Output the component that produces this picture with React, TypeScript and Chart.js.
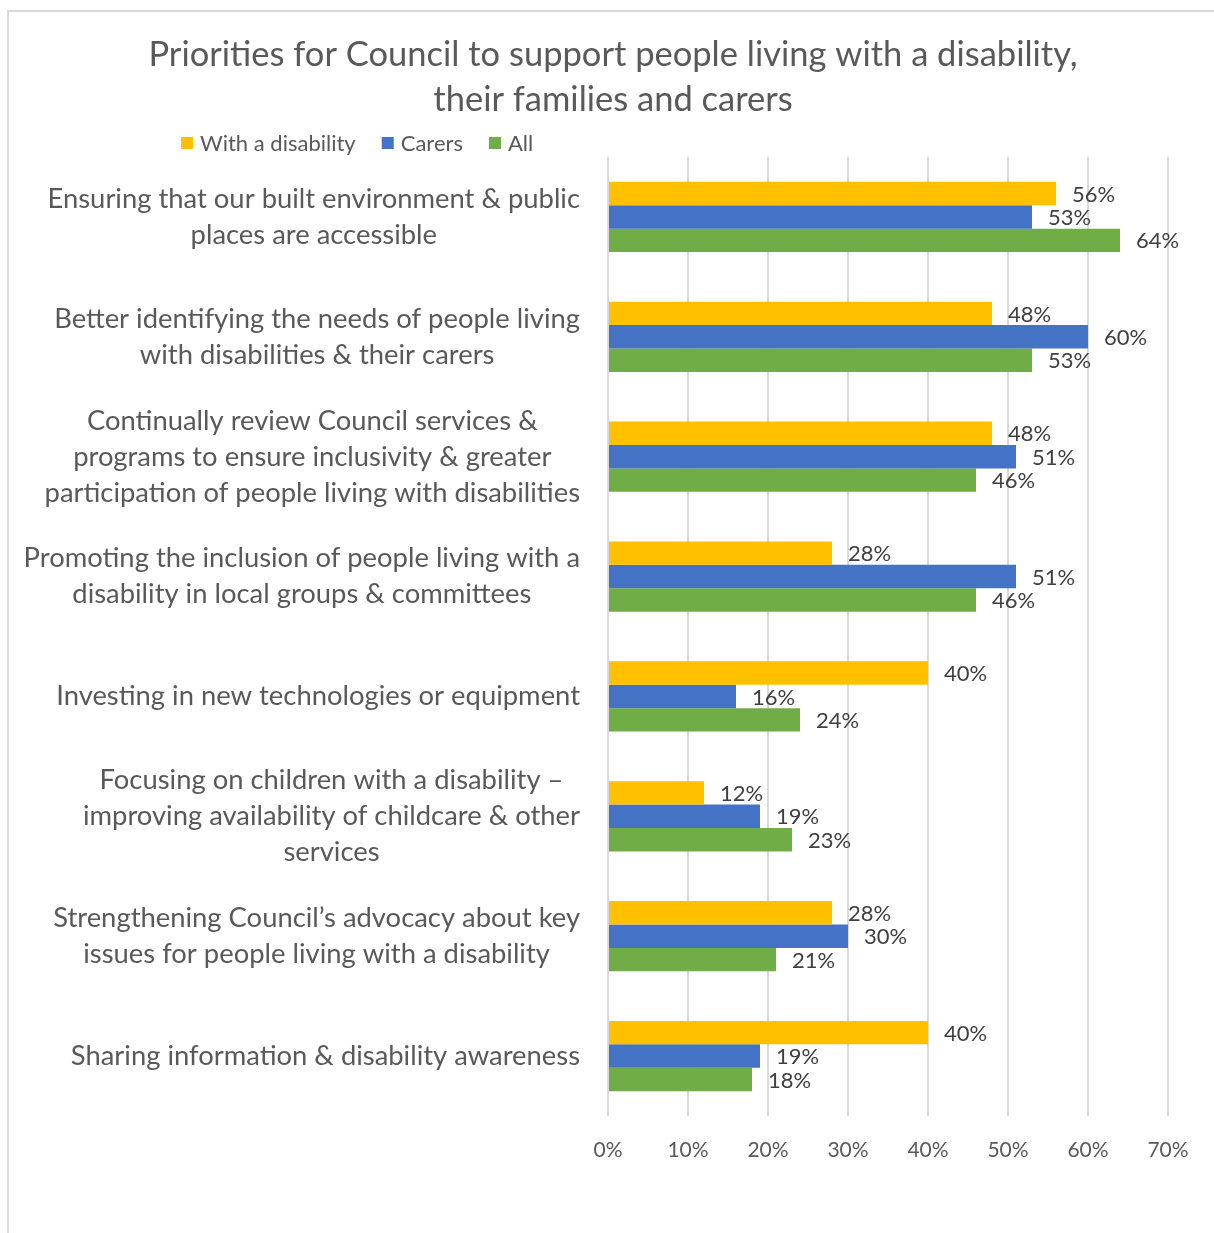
import React, { useEffect, useRef } from 'react';
import { Chart, registerables } from 'chart.js';

Chart.register(...registerables);

const titleLines: string[] = [
  'Priorities for Council to support people living with a disability,',
  'their families and carers',
];
const categories: string[][] = [
  ['Ensuring that our built environment & public', 'places are accessible'],
  ['Better identifying the needs of people living', 'with disabilities & their carers'],
  ['Continually review Council services &', 'programs to ensure inclusivity & greater', 'participation of people living with disabilities'],
  ['Promoting the inclusion of people living with a', 'disability in local groups & committees'],
  ['Investing in new technologies or equipment'],
  ['Focusing on children with a disability –', 'improving availability of childcare & other', 'services'],
  ['Strengthening Council’s advocacy about key', 'issues for people living with a disability'],
  ['Sharing information & disability awareness'],
];
const seriesNames: string[] = ['With a disability', 'Carers', 'All'];
const withDisability: number[] = [56, 48, 48, 28, 40, 12, 28, 40];
const carers: number[] = [53, 60, 51, 51, 16, 19, 30, 19];
const all: number[] = [64, 53, 46, 46, 24, 23, 21, 18];
const xTicks: number[] = [0, 10, 20, 30, 40, 50, 60, 70];

const COLORS = ['#FFC000', '#4472C4', '#70AD47'];
const FONT = 'Lato, "Open Sans", sans-serif';
const TEXT = '#595959';

const decor = {
  id: 'decor',
  afterDraw(chart: any) {
    const ctx = chart.ctx as CanvasRenderingContext2D;
    const xs = chart.scales.x;
    const ys = chart.scales.y;
    ctx.save();
    // title
    ctx.fillStyle = TEXT;
    ctx.font = `34.5px ${FONT}`;
    ctx.textAlign = 'center';
    ctx.textBaseline = 'middle';
    titleLines.forEach((t, i) => ctx.fillText(t, 613, 55 + i * 45));

    // legend
    ctx.font = `22px ${FONT}`;
    ctx.textAlign = 'left';
    let lx = 181;
    const ly = 143;
    seriesNames.forEach((name, i) => {
      ctx.fillStyle = COLORS[i];
      ctx.fillRect(lx, ly - 6, 12, 12);
      ctx.fillStyle = TEXT;
      ctx.fillText(name, lx + 19, ly + 1);
      lx += 19 + ctx.measureText(name).width + 26;
    });

    // category labels
    ctx.font = `27.4px ${FONT}`;
    ctx.textAlign = 'center';
    ctx.fillStyle = TEXT;
    categories.forEach((lines, i) => {
      const cy = ys.getPixelForValue(i);
      const w = Math.max(...lines.map((l) => ctx.measureText(l).width));
      const cx = xs.left - 28 - w / 2;
      lines.forEach((l, j) => ctx.fillText(l, cx, cy + (j - (lines.length - 1) / 2) * 36));
    });

    // data labels
    ctx.font = `22px ${FONT}`;
    ctx.textAlign = 'left';
    ctx.fillStyle = '#404040';
    chart.data.datasets.forEach((ds: any, di: number) => {
      const meta = chart.getDatasetMeta(di);
      meta.data.forEach((bar: any, i: number) => {
        ctx.fillText(`${ds.data[i]}%`, bar.x + 16, bar.y + 1);
      });
    });
    ctx.restore();
  },
};

export default function App() {
  const ref = useRef<HTMLCanvasElement | null>(null);
  useEffect(() => {
    if (!ref.current) return;
    const chart = new Chart(ref.current, {
      type: 'bar',
      data: {
        labels: categories.map((c) => c.join(' ')),
        datasets: [withDisability, carers, all].map((d, i) => ({
          label: seriesNames[i],
          data: d,
          backgroundColor: COLORS[i],
          borderWidth: 0,
          barPercentage: 1,
          categoryPercentage: 0.585,
        })),
      },
      options: {
        indexAxis: 'y',
        animation: false,
        responsive: false,
        maintainAspectRatio: false,
        layout: { padding: { top: 157, right: 46, bottom: 0, left: 0 } },
        plugins: {
          legend: { display: false },
          title: { display: false },
          tooltip: { enabled: false },
        },
        scales: {
          x: {
            min: 0,
            max: 70,
            afterBuildTicks: (scale: any) => {
              scale.ticks = xTicks.map((v) => ({ value: v }));
            },
            afterFit: (scale: any) => {
              scale.height = 117;
            },
            ticks: {
              callback: (v: any) => `${v}%`,
              font: { family: FONT, size: 21 },
              color: TEXT,
              padding: 22,
              maxRotation: 0,
            },
            grid: { color: '#D9D9D9', lineWidth: 2, drawTicks: false },
            border: { display: false },
          },
          y: {
            afterFit: (scale: any) => {
              scale.width = 608;
            },
            ticks: { display: false },
            grid: { display: false },
            border: { display: false },
          },
        },
      },
      plugins: [decor],
    } as any);
    return () => chart.destroy();
  }, []);

  return (
    <div style={{ position: 'absolute', left: 0, top: 0, width: 1214, height: 1233, background: '#fff' }}>
      <div
        style={{
          position: 'absolute',
          left: 7,
          top: 10,
          width: 1207,
          height: 1223,
          borderLeft: '2px solid #D9D9D9',
          borderTop: '2px solid #D9D9D9',
          boxSizing: 'border-box',
        }}
      />
      <canvas ref={ref} width={1214} height={1233} style={{ position: 'absolute', left: 0, top: 0, display: 'block' }} />
    </div>
  );
}
